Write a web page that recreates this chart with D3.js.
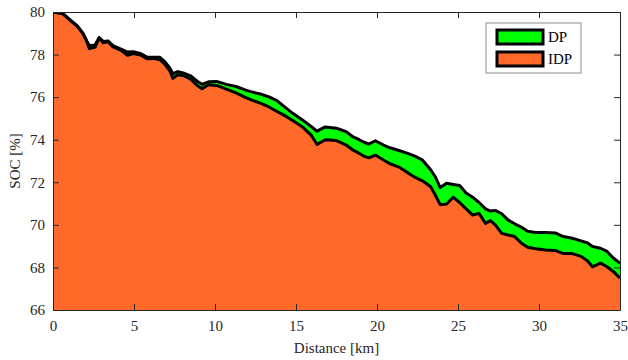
<!DOCTYPE html>
<html>
<head>
<meta charset="utf-8">
<script src="https://cdn.jsdelivr.net/npm/d3@7/dist/d3.min.js"></script>
<style>
  html, body { margin: 0; padding: 0; background: #ffffff; }
  svg { display: block; }
  svg text { font-family: "Liberation Serif", "Times New Roman", "DejaVu Serif", serif !important; }
</style>
</head>
<body>
<script>
// Travelled distance along the route (km)
const distanceKm = [
  0, 0.6, 1.1, 1.5, 1.85, 2.1, 2.25, 2.6, 2.85, 3.1, 3.4, 3.7, 4.2, 4.6, 4.95,
  5.4, 5.8, 6.2, 6.6, 6.9, 7.2, 7.4, 7.7, 8.1, 8.5, 8.9, 9.2, 9.6, 10.1, 10.7,
  11.3, 11.9, 12.2, 12.8, 13.3, 13.8, 14.2, 14.8, 15.4, 15.95, 16.3, 16.8, 17.5,
  18.1, 18.5, 18.9, 19.2, 19.5, 19.9, 20.4, 20.8, 21.4, 21.9, 22.3, 22.8, 23.3,
  23.6, 23.9, 24.3, 24.7, 25.1, 25.5, 25.9, 26.3, 26.7, 27.0, 27.3, 27.7, 28.1,
  28.5, 28.9, 29.3, 29.8, 30.4, 31.0, 31.5, 32.0, 32.6, 33.0, 33.3, 33.8, 34.2,
  34.6, 35.0
];

// State of charge with the DP strategy (%)
const socDP = [
  80, 79.94, 79.6, 79.35, 79.0, 78.62, 78.42, 78.45, 78.8, 78.62, 78.64, 78.42, 78.26, 78.12, 78.13,
  78.05, 77.88, 77.87, 77.87, 77.67, 77.38, 77.1, 77.2, 77.12, 77.0, 76.75, 76.6, 76.72, 76.74, 76.6,
  76.5, 76.33, 76.26, 76.15, 76.02, 75.85, 75.6, 75.24, 74.93, 74.61, 74.4, 74.6, 74.54,
  74.38, 74.14, 74.0, 73.88, 73.8, 73.95, 73.75, 73.62, 73.48, 73.36, 73.24, 73.05, 72.6,
  72.26, 71.75, 71.95, 71.9, 71.85, 71.5, 71.3, 71.05, 70.75, 70.65, 70.68, 70.52, 70.22,
  70.05, 69.9, 69.7, 69.64, 69.64, 69.62, 69.45, 69.38, 69.25, 69.15, 68.98, 68.9, 68.75,
  68.43, 68.2
];

// State of charge with the IDP strategy (%)
const socIDP = [
  80, 79.92, 79.58, 79.33, 78.98, 78.58, 78.28, 78.35, 78.78, 78.55, 78.6, 78.36, 78.2, 77.97, 78.05,
  77.98, 77.8, 77.82, 77.76, 77.55, 77.25, 76.88, 77.05, 77.0, 76.84, 76.55, 76.4, 76.58, 76.55, 76.38,
  76.2, 75.98, 75.88, 75.72, 75.55, 75.34, 75.18, 74.9, 74.6, 74.2, 73.78, 74.0, 73.96,
  73.75, 73.52, 73.36, 73.22, 73.15, 73.28, 73.05, 72.87, 72.7, 72.45, 72.25, 72.07, 71.8,
  71.4, 70.95, 70.98, 71.3, 71.05, 70.75, 70.46, 70.54, 70.07, 70.2, 70.0, 69.6, 69.52,
  69.45, 69.15, 68.95, 68.88, 68.82, 68.8, 68.65, 68.66, 68.52, 68.3, 68.03, 68.2, 68.03,
  67.8, 67.5
];

const xTicks = [0, 5, 10, 15, 20, 25, 30, 35];
const yTicks = [66, 68, 70, 72, 74, 76, 78, 80];
const seriesNames = ["DP", "IDP"];
const seriesColors = ["#00ff00", "#ff6a2b"];

const W = 628, H = 360;
const m = { left: 53, right: 8, top: 12, bottom: 50 };
const iw = W - m.left - m.right, ih = H - m.top - m.bottom;
const serif = '"Liberation Serif", "Times New Roman", "DejaVu Serif", serif';

const svg = d3.select("body").append("svg").attr("width", W).attr("height", H)
  .attr("font-family", serif);

const x = d3.scaleLinear().domain([0, 35]).range([0, iw]);
const y = d3.scaleLinear().domain([66, 80]).range([ih, 0]);

svg.append("defs").append("clipPath").attr("id", "plotClip")
  .append("rect").attr("width", iw).attr("height", ih);

const g = svg.append("g").attr("transform", `translate(${m.left},${m.top})`);
const plot = g.append("g").attr("clip-path", "url(#plotClip)");

const seriesData = [socDP, socIDP].map(vals => distanceKm.map((d, i) => [d, vals[i]]));

const area = d3.area().x(d => x(d[0])).y0(y(66)).y1(d => y(d[1]));
const line = d3.line().x(d => x(d[0])).y(d => y(d[1]));

// Filled areas first (DP behind IDP), then the black outlines on top
seriesData.forEach((data, i) => {
  plot.append("path").datum(data).attr("d", area).attr("fill", seriesColors[i]);
});
seriesData.forEach(data => {
  plot.append("path").datum(data).attr("d", line)
    .attr("fill", "none").attr("stroke", "#000").attr("stroke-width", 3)
    .attr("stroke-linejoin", "round");
});

// Axes box with inward ticks on all four sides
const axisColor = "#262626";
const tickLen = 6;
const xb = d3.axisBottom(x).tickValues(xTicks).tickSizeInner(-tickLen).tickSizeOuter(0).tickPadding(10);
const yl = d3.axisLeft(y).tickValues(yTicks).tickSizeInner(-tickLen).tickSizeOuter(0).tickPadding(8);
const xt = d3.axisTop(x).tickValues(xTicks).tickSizeInner(-tickLen).tickSizeOuter(0).tickFormat("");
const yr = d3.axisRight(y).tickValues(yTicks).tickSizeInner(-tickLen).tickSizeOuter(0).tickFormat("");

const gx = g.append("g").attr("transform", `translate(0,${ih})`).call(xb);
const gy = g.append("g").call(yl);
const gt = g.append("g").call(xt);
const gr = g.append("g").attr("transform", `translate(${iw},0)`).call(yr);

[gx, gy, gt, gr].forEach(a => {
  a.attr("font-family", serif).attr("font-size", 15);
  a.select(".domain").attr("stroke", axisColor).attr("stroke-width", 1);
  a.selectAll(".tick line").attr("stroke", axisColor).attr("stroke-width", 1);
  a.selectAll(".tick text").attr("fill", axisColor);
});

// Axis titles
g.append("text").attr("x", iw / 2).attr("y", ih + 43)
  .attr("text-anchor", "middle").attr("fill", axisColor)
  .attr("font-size", 15).text("Distance [km]");
g.append("text").attr("transform", `translate(${-33},${ih / 2}) rotate(-90)`)
  .attr("text-anchor", "middle").attr("fill", axisColor)
  .attr("font-size", 15).text("SOC [%]");

// Legend
const lg = svg.append("g").attr("transform", "translate(486,23)");
lg.append("rect").attr("width", 95).attr("height", 50)
  .attr("fill", "#fff").attr("stroke", "#8c8c8c").attr("stroke-width", 1);
seriesNames.forEach((name, i) => {
  const row = lg.append("g").attr("transform", `translate(11,${7 + i * 22})`);
  row.append("rect").attr("width", 46).attr("height", 14)
    .attr("fill", seriesColors[i]).attr("stroke", "#000").attr("stroke-width", 3);
  row.append("text").attr("x", 51).attr("y", 12)
    .attr("fill", "#000").attr("font-size", 15).text(name);
});
</script>
</body>
</html>
